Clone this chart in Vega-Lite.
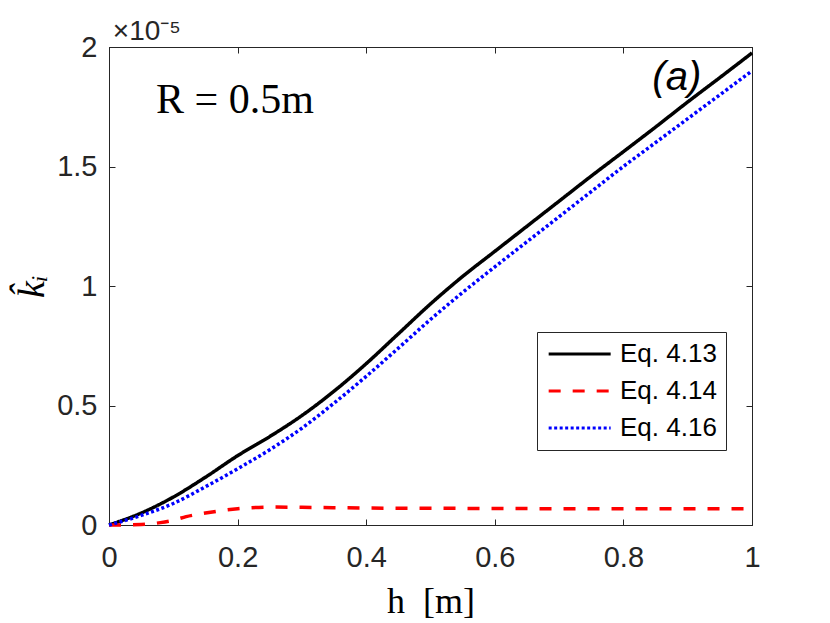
{
  "$schema": "https://vega.github.io/schema/vega-lite/v6.json",
  "width": 643,
  "height": 478,
  "autosize": "none",
  "padding": {"left": 109, "top": 47, "right": 78, "bottom": 98},
  "layer": [
    {
      "data": {
        "values": [
          {"h": 0, "k": 0, "eq": "Eq. 4.13"},
          {"h": 0.05, "k": 0.05, "eq": "Eq. 4.13"},
          {"h": 0.1, "k": 0.117, "eq": "Eq. 4.13"},
          {"h": 0.15, "k": 0.2, "eq": "Eq. 4.13"},
          {"h": 0.2, "k": 0.29, "eq": "Eq. 4.13"},
          {"h": 0.25, "k": 0.37, "eq": "Eq. 4.13"},
          {"h": 0.3, "k": 0.458, "eq": "Eq. 4.13"},
          {"h": 0.35, "k": 0.56, "eq": "Eq. 4.13"},
          {"h": 0.4, "k": 0.675, "eq": "Eq. 4.13"},
          {"h": 0.45, "k": 0.8, "eq": "Eq. 4.13"},
          {"h": 0.5, "k": 0.925, "eq": "Eq. 4.13"},
          {"h": 0.55, "k": 1.04, "eq": "Eq. 4.13"},
          {"h": 0.6, "k": 1.145, "eq": "Eq. 4.13"},
          {"h": 0.65, "k": 1.25, "eq": "Eq. 4.13"},
          {"h": 0.7, "k": 1.355, "eq": "Eq. 4.13"},
          {"h": 0.75, "k": 1.46, "eq": "Eq. 4.13"},
          {"h": 0.8, "k": 1.562, "eq": "Eq. 4.13"},
          {"h": 0.85, "k": 1.665, "eq": "Eq. 4.13"},
          {"h": 0.9, "k": 1.77, "eq": "Eq. 4.13"},
          {"h": 0.95, "k": 1.872, "eq": "Eq. 4.13"},
          {"h": 1, "k": 1.975, "eq": "Eq. 4.13"},
          {"h": 0, "k": 0, "eq": "Eq. 4.14"},
          {"h": 0.05, "k": 0.002, "eq": "Eq. 4.14"},
          {"h": 0.08, "k": 0.01, "eq": "Eq. 4.14"},
          {"h": 0.1, "k": 0.02, "eq": "Eq. 4.14"},
          {"h": 0.12, "k": 0.035, "eq": "Eq. 4.14"},
          {"h": 0.15, "k": 0.05, "eq": "Eq. 4.14"},
          {"h": 0.2, "k": 0.068, "eq": "Eq. 4.14"},
          {"h": 0.25, "k": 0.075, "eq": "Eq. 4.14"},
          {"h": 0.3, "k": 0.074, "eq": "Eq. 4.14"},
          {"h": 0.4, "k": 0.071, "eq": "Eq. 4.14"},
          {"h": 0.5, "k": 0.07, "eq": "Eq. 4.14"},
          {"h": 0.6, "k": 0.069, "eq": "Eq. 4.14"},
          {"h": 0.8, "k": 0.068, "eq": "Eq. 4.14"},
          {"h": 1, "k": 0.068, "eq": "Eq. 4.14"},
          {"h": 0, "k": 0, "eq": "Eq. 4.16"},
          {"h": 0.05, "k": 0.04, "eq": "Eq. 4.16"},
          {"h": 0.1, "k": 0.09, "eq": "Eq. 4.16"},
          {"h": 0.15, "k": 0.16, "eq": "Eq. 4.16"},
          {"h": 0.2, "k": 0.235, "eq": "Eq. 4.16"},
          {"h": 0.25, "k": 0.315, "eq": "Eq. 4.16"},
          {"h": 0.3, "k": 0.405, "eq": "Eq. 4.16"},
          {"h": 0.35, "k": 0.51, "eq": "Eq. 4.16"},
          {"h": 0.4, "k": 0.622, "eq": "Eq. 4.16"},
          {"h": 0.45, "k": 0.74, "eq": "Eq. 4.16"},
          {"h": 0.5, "k": 0.86, "eq": "Eq. 4.16"},
          {"h": 0.55, "k": 0.973, "eq": "Eq. 4.16"},
          {"h": 0.6, "k": 1.08, "eq": "Eq. 4.16"},
          {"h": 0.65, "k": 1.185, "eq": "Eq. 4.16"},
          {"h": 0.7, "k": 1.29, "eq": "Eq. 4.16"},
          {"h": 0.75, "k": 1.395, "eq": "Eq. 4.16"},
          {"h": 0.8, "k": 1.5, "eq": "Eq. 4.16"},
          {"h": 0.85, "k": 1.6, "eq": "Eq. 4.16"},
          {"h": 0.9, "k": 1.7, "eq": "Eq. 4.16"},
          {"h": 0.95, "k": 1.8, "eq": "Eq. 4.16"},
          {"h": 1, "k": 1.9, "eq": "Eq. 4.16"}
        ]
      },
      "mark": {"type": "line", "strokeWidth": 3.5, "strokeCap": "butt", "interpolate": "monotone"},
      "encoding": {
        "x": {
          "field": "h",
          "type": "quantitative",
          "scale": {"domain": [0, 1], "nice": false, "zero": false},
          "axis": {
            "orient": "bottom",
            "values": [0, 0.2, 0.4, 0.6, 0.8, 1],
            "format": "~g",
            "tickSize": -6,
            "labelPadding": 24,
            "labelFlush": false,
            "title": "h\u00a0\u00a0[m]",
            "titleFont": "Liberation Serif",
            "titleFontSize": 36,
            "titleFontWeight": "normal",
            "titleColor": "#000000",
            "titleY": 87,
            "titleBaseline": "alphabetic"
          }
        },
        "y": {
          "field": "k",
          "type": "quantitative",
          "scale": {"domain": [0, 2], "nice": false},
          "axis": {
            "orient": "left",
            "values": [0, 0.5, 1, 1.5, 2],
            "format": "~g",
            "tickSize": -6,
            "labelPadding": 18,
            "labelFlush": false,
            "title": "k̂ᵢ",
            "titleFont": "Liberation Serif",
            "titleFontStyle": "italic",
            "titleFontSize": 38,
            "titleFontWeight": "normal",
            "titleColor": "#000000",
            "titleAngle": -90,
            "titleX": -66,
            "titleY": 239,
            "titleAlign": "center",
            "titleBaseline": "alphabetic"
          }
        },
        "color": {
          "field": "eq",
          "type": "nominal",
          "scale": {
            "domain": ["Eq. 4.13", "Eq. 4.14", "Eq. 4.16"],
            "range": ["#000000", "#ff0000", "#0000ff"]
          }
        },
        "strokeDash": {
          "field": "eq",
          "type": "nominal",
          "scale": {
            "domain": ["Eq. 4.13", "Eq. 4.14", "Eq. 4.16"],
            "range": [[1, 0], [12, 12], [3, 2.5]]
          }
        }
      }
    },
    {
      "data": {"values": [{"h": 0.073, "k": 1.724, "label": "R = 0.5m"}]},
      "mark": {
        "type": "text",
        "font": "Liberation Serif",
        "fontSize": 42,
        "align": "left",
        "baseline": "alphabetic",
        "color": "#000000"
      },
      "encoding": {
        "x": {
          "field": "h",
          "type": "quantitative",
          "axis": {
            "orient": "top",
            "values": [0, 0.2, 0.4, 0.6, 0.8, 1],
            "labels": false,
            "tickSize": -6,
            "title": null
          }
        },
        "y": {
          "field": "k",
          "type": "quantitative",
          "axis": {
            "orient": "right",
            "values": [0, 0.5, 1, 1.5, 2],
            "labels": false,
            "tickSize": -6,
            "title": null
          }
        },
        "text": {"field": "label"}
      }
    },
    {
      "data": {"values": [{"h": 0.883, "k": 1.82, "label": "(a)"}]},
      "mark": {
        "type": "text",
        "font": "Liberation Sans",
        "fontSize": 40,
        "fontStyle": "italic",
        "align": "center",
        "baseline": "alphabetic",
        "color": "#000000"
      },
      "encoding": {
        "x": {"field": "h", "type": "quantitative", "axis": null},
        "y": {"field": "k", "type": "quantitative", "axis": null},
        "text": {"field": "label"}
      }
    },
    {
      "data": {"values": [{"h": 0.006, "k": 2, "label": "×10⁻⁵"}]},
      "mark": {
        "type": "text",
        "font": "Liberation Sans",
        "fontSize": 28,
        "align": "left",
        "baseline": "alphabetic",
        "dy": -7,
        "color": "#262626"
      },
      "encoding": {
        "x": {"field": "h", "type": "quantitative", "axis": null},
        "y": {"field": "k", "type": "quantitative", "axis": null},
        "text": {"field": "label"}
      }
    }
  ],
  "resolve": {"axis": {"x": "independent", "y": "independent"}},
  "config": {
    "view": {"stroke": "#262626"},
    "axis": {
      "grid": false,
      "domainColor": "#262626",
      "domainWidth": 1,
      "tickColor": "#262626",
      "tickWidth": 1,
      "labelColor": "#262626",
      "labelFont": "Liberation Sans",
      "labelFontSize": 29
    },
    "legend": {
      "orient": "none",
      "legendX": 428,
      "legendY": 285,
      "title": null,
      "symbolType": "M-1,0H5",
      "symbolSize": 427,
      "symbolStrokeWidth": 3,
      "labelFont": "Liberation Sans",
      "labelFontSize": 26,
      "labelColor": "#000000",
      "labelOffset": 48,
      "labelLimit": 300,
      "padding": 9,
      "rowPadding": 11,
      "strokeColor": "#262626",
      "fillColor": "#ffffff"
    }
  }
}
